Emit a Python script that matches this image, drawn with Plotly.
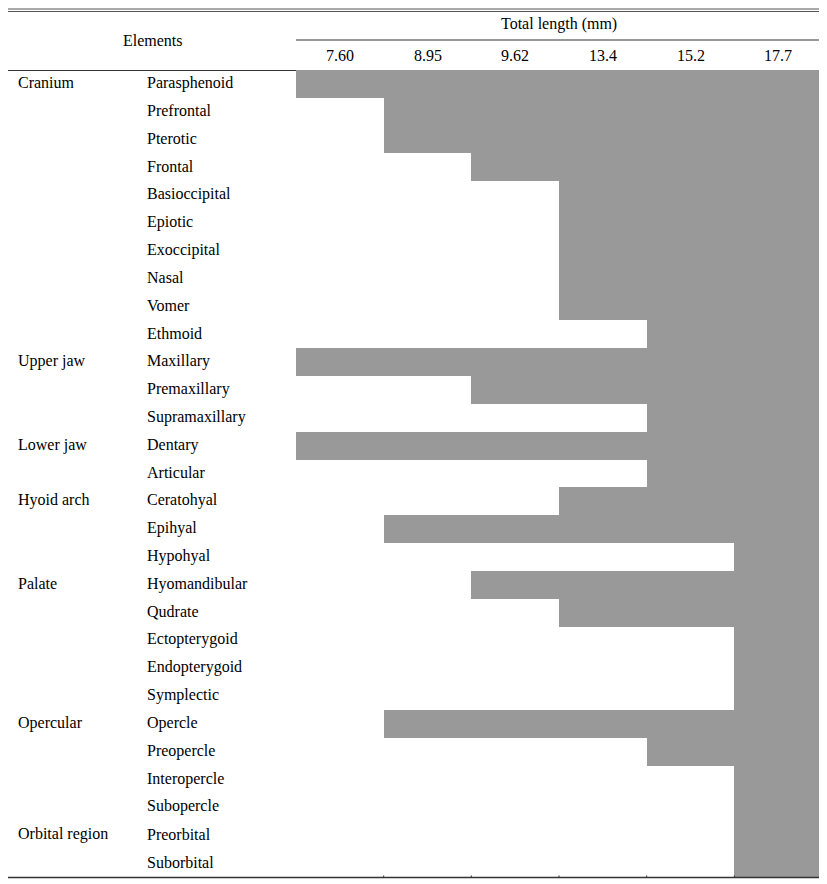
import plotly.graph_objects as go

# ---- data ----
groups = ["Cranium", "", "", "", "", "", "", "", "", "",
          "Upper jaw", "", "",
          "Lower jaw", "",
          "Hyoid arch", "", "",
          "Palate", "", "", "", "",
          "Opercular", "", "", "",
          "Orbital region", ""]
elements = ["Parasphenoid", "Prefrontal", "Pterotic", "Frontal", "Basioccipital",
            "Epiotic", "Exoccipital", "Nasal", "Vomer", "Ethmoid",
            "Maxillary", "Premaxillary", "Supramaxillary",
            "Dentary", "Articular",
            "Ceratohyal", "Epihyal", "Hypohyal",
            "Hyomandibular", "Qudrate", "Ectopterygoid", "Endopterygoid", "Symplectic",
            "Opercle", "Preopercle", "Interopercle", "Subopercle",
            "Preorbital", "Suborbital"]
lengths = ["7.60", "8.95", "9.62", "13.4", "15.2", "17.7"]
# index of the total length (column) at which each element first appears
first_stage = [0, 1, 1, 2, 3, 3, 3, 3, 3, 4,
               0, 2, 4,
               0, 4,
               3, 1, 5,
               2, 3, 5, 5, 5,
               1, 4, 5, 5,
               5, 5]

OFF = 8  # page body margin
W, H = 827 - OFF, 884 - OFF
L, T = 296 - OFF, 70 - OFF
R = W - (822 - OFF)
B = H - (877 - OFF)
PW, PH = W - L - R, H - T - B

def px2x(px):
    return (px - OFF - L) / PW

def px2y(py):
    return (H - B - (py - OFF)) / PH

n = len(lengths)
fig = go.Figure()
fig.add_trace(go.Bar(
    orientation="h",
    y=elements,
    x=[n - s for s in first_stage],
    base=first_stage,
    width=1,
    marker=dict(color="#999999", line=dict(width=0)),
    showlegend=False,
    hoverinfo="skip",
))

FONT = dict(family="Liberation Serif, Times New Roman, serif", size=16, color="#000000")
ann = []
for g, e in zip(groups, elements):
    if g:
        ann.append(dict(x=px2x(16), y=e, xref="paper", yref="y", text=g, showarrow=False,
                        xanchor="left", yanchor="middle", yshift=1, font=FONT))
    ann.append(dict(x=px2x(144.5), y=e, xref="paper", yref="y", text=e, showarrow=False,
                    xanchor="left", yanchor="middle", yshift=1, font=FONT))
for i, lab in enumerate(lengths):
    ann.append(dict(x=i + 0.5, y=px2y(55), xref="x", yref="paper", text=lab, showarrow=False,
                    xanchor="center", yanchor="middle", font=FONT))
ann.append(dict(x=px2x(153), y=px2y(40), xref="paper", yref="paper", text="Elements",
                showarrow=False, xanchor="center", yanchor="middle", font=FONT))
ann.append(dict(x=px2x(559), y=px2y(24), xref="paper", yref="paper", text="Total length (mm)",
                showarrow=False, xanchor="center", yanchor="middle", font=FONT))

shapes = []
def hline(x0, x1, y, w=1.2, c="#333333"):
    shapes.append(dict(type="line", xref="paper", yref="paper", x0=px2x(x0), x1=px2x(x1),
                       y0=px2y(y), y1=px2y(y), line=dict(color=c, width=w)))

hline(8, 822, 9, 1.2, "#555555")
hline(8, 822, 11.5, 1.2, "#555555")
hline(296, 822, 40, 1.2)
hline(8, 296, 70.5, 1.2)
hline(8, 822, 877.5, 1.5)
for k in range(1, n):
    shapes.append(dict(type="line", xref="x", yref="paper", x0=k, x1=k,
                       y0=px2y(877.5), y1=px2y(875.5), line=dict(color="#333333", width=1)))

fig.update_layout(
    width=W, height=H,
    margin=dict(l=L, r=R, t=T, b=B),
    paper_bgcolor="white", plot_bgcolor="white",
    bargap=0,
    xaxis=dict(range=[0, n], visible=False, fixedrange=True),
    yaxis=dict(range=[len(elements) - 0.5, -0.5], visible=False, fixedrange=True,
               categoryorder="array", categoryarray=elements),
    annotations=ann,
    shapes=shapes,
)

fig.write_html("out.html")
